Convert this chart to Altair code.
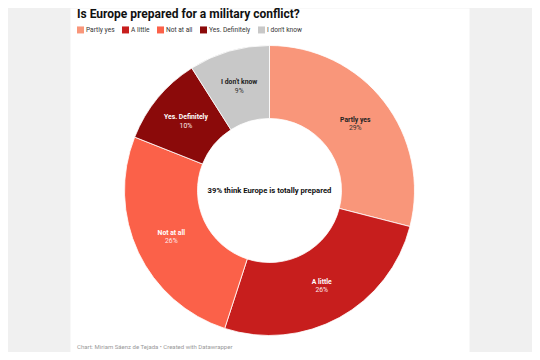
import altair as alt
import pandas as pd

categories = ["Partly yes", "A little", "Not at all", "Yes. Definitely", "I don't know"]
values = [29, 26, 26, 10, 9]
colors = ["#f9967a", "#c71e1d", "#fb6149", "#8b0a0a", "#c8c8c8"]
title_text = ["Is Europe prepared for a military conflict?"]
center_text = ["39% think Europe is totally prepared"]
footer_text = ["Chart: Miriam Sáenz de Tejada • Created with Datawrapper"]

FONT = "Roboto"
CX, CY = 199.5, 182.5

df = pd.DataFrame({"category": categories, "value": values, "order": list(range(len(categories)))})

color_scale = alt.Scale(domain=categories, range=colors)

base = alt.Chart(df).encode(
    theta=alt.Theta("value:Q", stack=True),
    order=alt.Order("order:Q"),
)

arcs = base.mark_arc(innerRadius=72, outerRadius=145, stroke="white", strokeWidth=0.8).encode(
    color=alt.Color(
        "category:N",
        scale=color_scale,
        sort=categories,
        legend=alt.Legend(
            title=None,
            orient="none",
            legendX=7,
            legendY=18,
            direction="horizontal",
            columns=5,
            symbolType="square",
            symbolSize=49,
            symbolStrokeWidth=0,
            labelFontSize=6.6,
            labelFont=FONT,
            labelColor="#333",
            labelOffset=2,
            columnPadding=7,
        ),
    ),
    x=alt.value(CX),
    y=alt.value(CY),
)

dark = alt.FieldOneOfPredicate(field="category", oneOf=["Partly yes", "I don't know"])

name_labels = base.mark_text(radius=108.5, dy=-4, fontSize=6.8, fontWeight="bold", font=FONT).encode(
    text="category:N",
    color=alt.condition(dark, alt.value("#222"), alt.value("white")),
    x=alt.value(CX),
    y=alt.value(CY),
)

pct_labels = base.transform_calculate(pct="datum.value + '%'").mark_text(
    radius=108.5, dy=4.5, fontSize=6.8, font=FONT
).encode(
    text="pct:N",
    color=alt.condition(dark, alt.value("#333"), alt.value("#fdeaea")),
    x=alt.value(CX),
    y=alt.value(CY),
)

title = alt.Chart(pd.DataFrame({"t": title_text})).mark_text(
    align="left", baseline="alphabetic", fontSize=12, fontWeight="bold", font=FONT, color="#111"
).encode(text="t:N", x=alt.value(7), y=alt.value(10))

center = alt.Chart(pd.DataFrame({"t": center_text})).mark_text(
    align="center", baseline="middle", fontSize=7.7, fontWeight="bold", font=FONT, color="#111"
).encode(text="t:N", x=alt.value(CX), y=alt.value(CY))

footer = alt.Chart(pd.DataFrame({"t": footer_text})).mark_text(
    align="left", baseline="alphabetic", fontSize=6, font=FONT, color="#999"
).encode(text="t:N", x=alt.value(7), y=alt.value(341))

chart = alt.layer(arcs, name_labels, pct_labels, title, center, footer).properties(
    width=399,
    height=344,
    padding={"left": 62, "right": 63, "top": 0, "bottom": 0},
    autosize=alt.AutoSizeParams(type="none"),
    background="#f0f0f0",
).configure_view(fill="white", stroke="transparent")

chart.save("out.html", embed_options={"renderer": "svg", "actions": False})
